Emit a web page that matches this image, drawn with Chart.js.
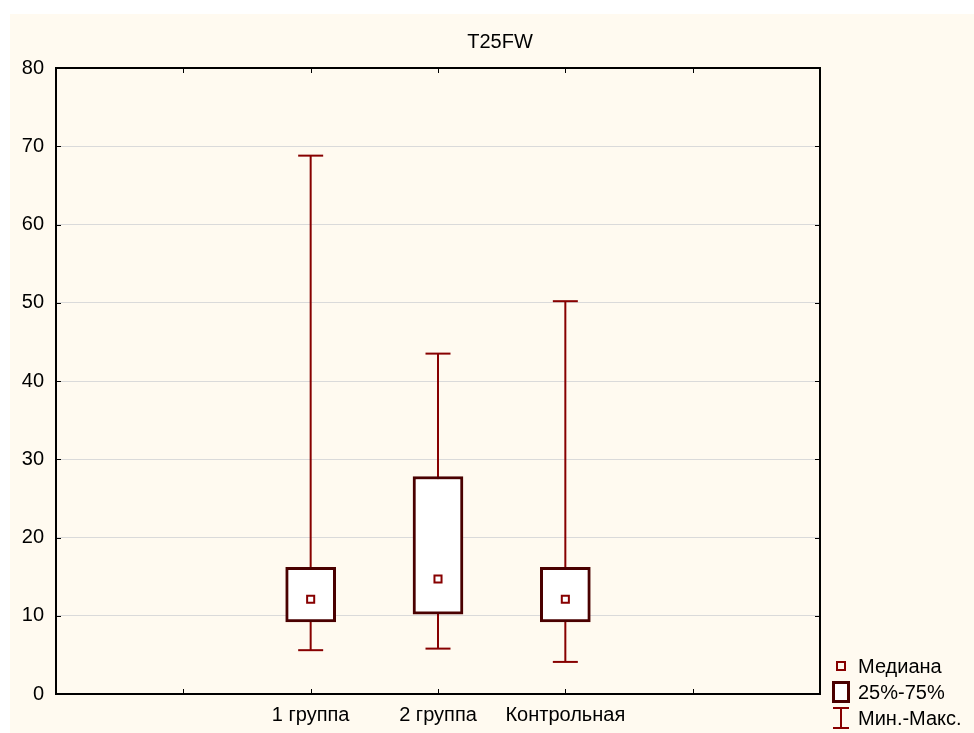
<!DOCTYPE html>
<html>
<head>
<meta charset="utf-8">
<title>T25FW</title>
<script src="https://cdn.jsdelivr.net/npm/chart.js@4"></script>
<style>
  html, body { margin: 0; padding: 0; background: #ffffff; }
  #wrap { position: absolute; left: 10px; top: 14px; width: 964px; height: 719px; background: #fffaf0; }
</style>
</head>
<body>
<div id="wrap"><canvas id="boxChart" width="964" height="719"></canvas></div>
<script>
// groups sit at x = 2, 3, 4 on a 0..6 axis
const groups = ['1 группа', '2 группа', 'Контрольная'];
const mins    = [5.6, 5.8, 4.1];
const q1s     = [9.2, 10.2, 9.2];
const medians = [12.1, 14.7, 12.1];
const q3s     = [16.2, 27.8, 16.2];
const maxs    = [68.8, 43.5, 50.2];
const yTicks  = [0, 10, 20, 30, 40, 50, 60, 70, 80];

const whiskerColor = '#870000';
const boxColor = '#4a0000';
const fontFamily = '"Liberation Sans", Arial, sans-serif';

// legend icons
function iconCanvas(w, h, draw) {
  const c = document.createElement('canvas');
  c.width = w; c.height = h;
  draw(c.getContext('2d'));
  return c;
}

const whiskerSets = groups.map((g, i) => ({
  type: 'line',
  label: 'whisker ' + g,
  data: [{ x: i + 2, y: mins[i] }, { x: i + 2, y: maxs[i] }],
  borderColor: whiskerColor,
  borderWidth: 2,
  pointStyle: 'line',
  pointRadius: 12.5,
  pointBorderWidth: 2,
  pointBorderColor: whiskerColor,
  order: 3
}));

const framePlugin = {
  id: 'frame',
  beforeDraw(chart) {
    // title sits a little right of the canvas centre
    if (chart.titleBlock) chart.titleBlock.left = 16;
  },
  afterDatasetsDraw(chart) {
    const { ctx, chartArea: a, scales } = chart;
    ctx.save();
    ctx.strokeStyle = '#000';
    ctx.lineWidth = 1;
    const t = 5;
    ctx.beginPath();
    for (let v = 1; v <= 5; v++) {
      const px = Math.round(scales.x.getPixelForValue(v)) + 0.5;
      ctx.moveTo(px, a.top); ctx.lineTo(px, a.top + t);
      ctx.moveTo(px, a.bottom); ctx.lineTo(px, a.bottom - t);
    }
    yTicks.slice(1, -1).forEach(v => {
      const py = Math.round(scales.y.getPixelForValue(v)) + 0.5;
      ctx.moveTo(a.left, py); ctx.lineTo(a.left + t, py);
      ctx.moveTo(a.right, py); ctx.lineTo(a.right - t, py);
    });
    ctx.stroke();
    ctx.lineWidth = 2;
    ctx.strokeRect(a.left, a.top, a.right - a.left, a.bottom - a.top);
    ctx.restore();
  }
};

const legendItems = [
  { text: 'Медиана', icon: iconCanvas(12, 12, g => {
      g.strokeStyle = whiskerColor; g.lineWidth = 2; g.strokeRect(2, 2, 8, 8);
    }) },
  { text: '25%-75%', icon: iconCanvas(20, 24, g => {
      g.fillStyle = '#fff'; g.fillRect(2, 2, 16, 20);
      g.strokeStyle = boxColor; g.lineWidth = 3; g.strokeRect(2.5, 2.5, 15, 19);
    }) },
  { text: 'Мин.-Макс.', icon: iconCanvas(20, 24, g => {
      g.strokeStyle = whiskerColor; g.lineWidth = 2;
      g.beginPath();
      g.moveTo(2, 2); g.lineTo(18, 2);
      g.moveTo(10, 2); g.lineTo(10, 22);
      g.moveTo(2, 22); g.lineTo(18, 22);
      g.stroke();
    }) }
];

const legendPlugin = {
  id: 'sideLegend',
  afterDraw(chart) {
    const { ctx, chartArea: a } = chart;
    ctx.save();
    ctx.font = '20px ' + fontFamily;
    ctx.fillStyle = '#000';
    ctx.textBaseline = 'middle';
    legendItems.forEach((item, i) => {
      const cy = a.bottom - 28 + i * 26;
      const ic = item.icon;
      ctx.drawImage(ic, a.right + 21 - ic.width / 2, cy - ic.height / 2);
      ctx.fillText(item.text, a.right + 38, cy + 1);
    });
    ctx.restore();
  }
};

new Chart(document.getElementById('boxChart'), {
  data: {
    datasets: [
      {
        type: 'scatter',
        label: 'Медиана',
        data: groups.map((g, i) => ({ x: i + 2, y: medians[i] })),
        pointStyle: 'rect',
        pointRadius: 5,
        pointBorderWidth: 2,
        pointBorderColor: whiskerColor,
        pointBackgroundColor: '#fff',
        order: 1
      },
      {
        type: 'bar',
        label: '25%-75%',
        data: groups.map((g, i) => ({ x: i + 2, y: [q1s[i], q3s[i]] })),
        backgroundColor: '#fff',
        borderColor: boxColor,
        borderWidth: 3,
        borderSkipped: false,
        barThickness: 50,
        order: 2
      },
      ...whiskerSets
    ]
  },
  options: {
    responsive: false,
    animation: false,
    devicePixelRatio: 1,
    layout: { padding: 0 },
    plugins: {
      legend: { display: false },
      tooltip: { enabled: false },
      title: {
        display: true,
        text: 'T25FW',
        color: '#000',
        font: { family: fontFamily, size: 20, weight: 'normal' },
        padding: { top: 16, bottom: 14 }
      }
    },
    scales: {
      x: {
        type: 'linear',
        min: 0,
        max: 6,
        offset: false,
        grid: { display: false, drawTicks: false },
        border: { display: false },
        afterFit(scale) { scale.height = 39; },
        ticks: {
          stepSize: 1,
          autoSkip: false,
          maxRotation: 0,
          padding: 9,
          color: '#000',
          font: { family: fontFamily, size: 20 },
          callback: v => (v >= 2 && v <= 4 ? groups[v - 2] : '')
        }
      },
      y: {
        min: 0,
        max: 80,
        grid: { color: '#dadada', lineWidth: 1, drawTicks: false },
        border: { display: false },
        afterFit(scale) { scale.width = 46; },
        afterBuildTicks(scale) { scale.ticks = yTicks.map(v => ({ value: v })); },
        ticks: {
          padding: 12,
          color: '#000',
          font: { family: fontFamily, size: 20 }
        }
      },
      // empty band on the right that holds the legend
      side: {
        type: 'linear',
        position: 'right',
        display: true,
        grid: { display: false, drawTicks: false },
        border: { display: false },
        ticks: { display: false },
        afterFit(scale) { scale.width = 154; }
      }
    }
  },
  plugins: [framePlugin, legendPlugin]
});
</script>
</body>
</html>
